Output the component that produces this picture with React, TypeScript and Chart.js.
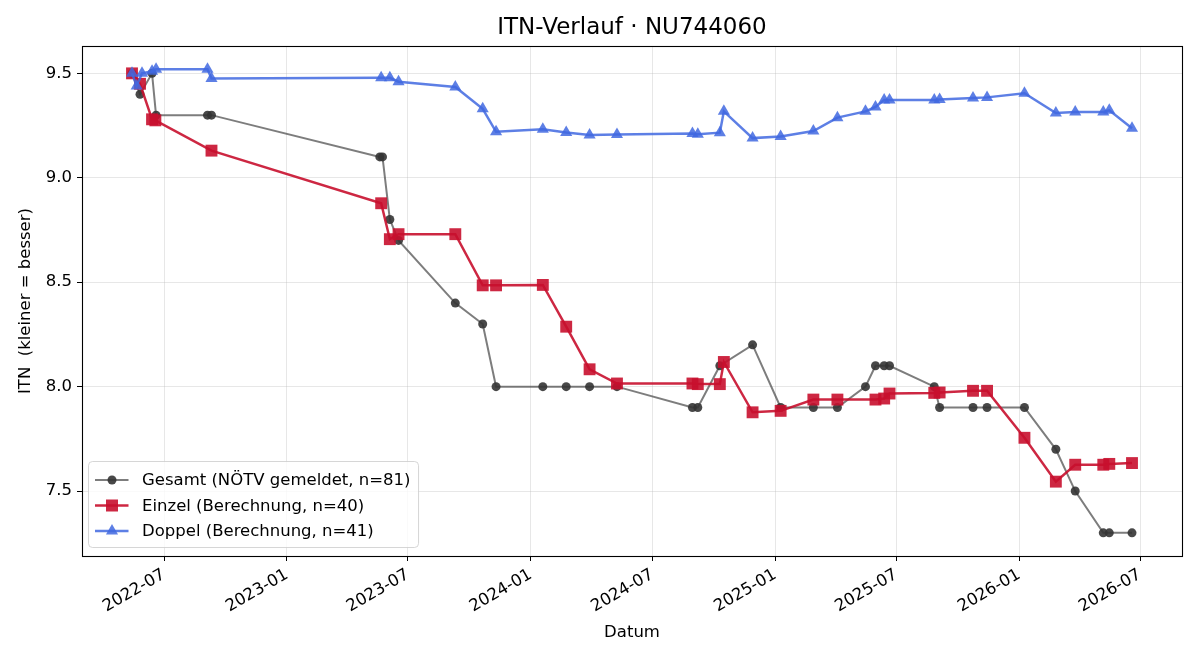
import React, { useEffect, useRef } from 'react';
import { Chart, registerables } from 'chart.js';

Chart.register(...registerables);

const TITLE = 'ITN-Verlauf · NU744060';
const X_LABEL = 'Datum';
const Y_LABEL = 'ITN  (kleiner = besser)';

const gesamtLabel = 'Gesamt (NÖTV gemeldet, n=81)';
const gesamtDates = [
  '2022-05-14', '2022-05-26', '2022-06-13', '2022-06-19', '2022-09-04', '2022-09-10',
  '2023-05-20', '2023-05-24', '2023-06-04', '2023-06-17', '2023-09-10', '2023-10-21',
  '2023-11-10', '2024-01-19', '2024-02-23', '2024-03-29', '2024-05-09', '2024-08-30',
  '2024-09-07', '2024-10-10', '2024-11-28', '2025-01-09', '2025-02-27', '2025-04-04',
  '2025-05-16', '2025-05-31', '2025-06-13', '2025-06-21', '2025-08-27', '2025-09-04',
  '2025-10-24', '2025-11-14', '2026-01-09', '2026-02-25', '2026-03-26', '2026-05-07',
  '2026-05-16', '2026-06-19',
];
const gesamtValues = [
  9.5, 9.4, 9.5, 9.3, 9.3, 9.3,
  9.1, 9.1, 8.8, 8.7, 8.4, 8.3,
  8.0, 8.0, 8.0, 8.0, 8.0, 7.9,
  7.9, 8.1, 8.2, 7.9, 7.9, 7.9,
  8.0, 8.1, 8.1, 8.1, 8.0, 7.9,
  7.9, 7.9, 7.9, 7.7, 7.5, 7.3,
  7.3, 7.3,
];

const einzelLabel = 'Einzel (Berechnung, n=40)';
const einzelDates = [
  '2022-05-14', '2022-05-26', '2022-06-13', '2022-06-18', '2022-09-10', '2023-05-22',
  '2023-06-04', '2023-06-17', '2023-09-10', '2023-10-21', '2023-11-10', '2024-01-19',
  '2024-02-23', '2024-03-29', '2024-05-09', '2024-08-30', '2024-09-07', '2024-10-10',
  '2024-10-16', '2024-11-28', '2025-01-09', '2025-02-27', '2025-04-04', '2025-05-31',
  '2025-06-13', '2025-06-21', '2025-08-27', '2025-09-04', '2025-10-24', '2025-11-14',
  '2026-01-09', '2026-02-25', '2026-03-26', '2026-05-07', '2026-05-16', '2026-06-19',
];
const einzelValues = [
  9.5, 9.45, 9.28, 9.275, 9.13, 8.878,
  8.706, 8.73, 8.73, 8.485, 8.485, 8.487,
  8.287, 8.083, 8.015, 8.015, 8.012, 8.012,
  8.118, 7.877, 7.884, 7.938, 7.938, 7.938,
  7.943, 7.967, 7.97, 7.972, 7.98, 7.98,
  7.755, 7.545, 7.626, 7.626, 7.63, 7.634,
];

const doppelLabel = 'Doppel (Berechnung, n=41)';
const doppelDates = [
  '2022-05-14', '2022-05-21', '2022-05-29', '2022-06-13', '2022-06-19', '2022-09-04',
  '2022-09-10', '2023-05-22', '2023-06-04', '2023-06-17', '2023-09-10', '2023-10-21',
  '2023-11-10', '2024-01-19', '2024-02-23', '2024-03-29', '2024-05-09', '2024-08-30',
  '2024-09-07', '2024-10-10', '2024-10-16', '2024-11-28', '2025-01-09', '2025-02-27',
  '2025-04-04', '2025-05-16', '2025-05-31', '2025-06-13', '2025-06-21', '2025-08-27',
  '2025-09-04', '2025-10-24', '2025-11-14', '2026-01-09', '2026-02-25', '2026-03-26',
  '2026-05-07', '2026-05-16', '2026-06-19',
];
const doppelValues = [
  9.5, 9.44, 9.5, 9.51, 9.52, 9.52,
  9.475, 9.479, 9.479, 9.46, 9.435, 9.33,
  9.22, 9.232, 9.217, 9.205, 9.207, 9.212,
  9.209, 9.216, 9.318, 9.19, 9.198, 9.224,
  9.288, 9.318, 9.339, 9.372, 9.372, 9.372,
  9.375, 9.382, 9.385, 9.405, 9.31, 9.315,
  9.315, 9.323, 9.237,
];

const xTickLabels = ['2022-07', '2023-01', '2023-07', '2024-01', '2024-07', '2025-01', '2025-07', '2026-01', '2026-07'];
const yTickValues = [7.5, 8.0, 8.5, 9.0, 9.5];

const FONT = '"DejaVu Sans", "Liberation Sans", sans-serif';

const GRAY_LINE = 'rgba(64,64,64,0.68)';
const GRAY_POINT = 'rgba(52,52,52,0.9)';
const RED = 'rgba(200,16,46,0.9)';
const BLUE = 'rgba(65,105,225,0.85)';

function toMs(s: string): number {
  const [y, m, d] = s.split('-').map(Number);
  return Date.UTC(y, m - 1, d || 1);
}

function fmtMonth(ms: number): string {
  const dt = new Date(ms);
  const m = dt.getUTCMonth() + 1;
  return dt.getUTCFullYear() + '-' + (m < 10 ? '0' + m : String(m));
}

const framePlugin = {
  id: 'frame',
  afterDatasetsDraw(chart: any) {
    const { ctx, chartArea } = chart;
    ctx.save();
    ctx.strokeStyle = '#000';
    ctx.lineWidth = 1.1;
    ctx.strokeRect(
      Math.round(chartArea.left) + 0.5,
      Math.round(chartArea.top) + 0.5,
      Math.round(chartArea.right - chartArea.left),
      Math.round(chartArea.bottom - chartArea.top)
    );
    ctx.restore();
  },
};

const titlePlugin = {
  id: 'axTitle',
  afterDraw(chart: any) {
    const { ctx, chartArea } = chart;
    ctx.save();
    ctx.font = '23px ' + FONT;
    ctx.fillStyle = '#000';
    ctx.textAlign = 'center';
    ctx.textBaseline = 'middle';
    ctx.fillText(TITLE, (chartArea.left + chartArea.right) / 2, 28);
    ctx.restore();
  },
};

function drawMarker(ctx: CanvasRenderingContext2D, kind: string, x: number, y: number) {
  ctx.beginPath();
  if (kind === 'circle') {
    ctx.arc(x, y, 4.5, 0, Math.PI * 2);
  } else if (kind === 'rect') {
    ctx.rect(x - 6, y - 6, 12, 12);
  } else {
    ctx.moveTo(x, y - 7);
    ctx.lineTo(x + 6.06, y + 3.5);
    ctx.lineTo(x - 6.06, y + 3.5);
    ctx.closePath();
  }
  ctx.fill();
}

const legendPlugin = {
  id: 'mplLegend',
  afterDraw(chart: any) {
    const { ctx, chartArea } = chart;
    const items = [
      { label: gesamtLabel, line: GRAY_LINE, point: GRAY_POINT, kind: 'circle', lw: 2 },
      { label: einzelLabel, line: RED, point: RED, kind: 'rect', lw: 2.5 },
      { label: doppelLabel, line: BLUE, point: BLUE, kind: 'triangle', lw: 2.5 },
    ];
    ctx.save();
    ctx.font = '16.5px ' + FONT;
    let maxW = 0;
    items.forEach((it) => { maxW = Math.max(maxW, ctx.measureText(it.label).width); });
    const left = chartArea.left + 6.5;
    const height = 86;
    const top = chartArea.bottom - 8.5 - height;
    const textX = left + 53.5;
    const width = textX - left + maxW + 8;
    const r = 4;
    ctx.beginPath();
    ctx.moveTo(left + r, top);
    ctx.lineTo(left + width - r, top);
    ctx.quadraticCurveTo(left + width, top, left + width, top + r);
    ctx.lineTo(left + width, top + height - r);
    ctx.quadraticCurveTo(left + width, top + height, left + width - r, top + height);
    ctx.lineTo(left + r, top + height);
    ctx.quadraticCurveTo(left, top + height, left, top + height - r);
    ctx.lineTo(left, top + r);
    ctx.quadraticCurveTo(left, top, left + r, top);
    ctx.closePath();
    ctx.fillStyle = 'rgba(255,255,255,0.8)';
    ctx.fill();
    ctx.strokeStyle = 'rgba(204,204,204,0.8)';
    ctx.lineWidth = 1;
    ctx.stroke();

    items.forEach((it, i) => {
      const cy = top + 18.5 + i * 25.5;
      ctx.strokeStyle = it.line;
      ctx.lineWidth = it.lw;
      ctx.beginPath();
      ctx.moveTo(left + 6.5, cy);
      ctx.lineTo(left + 40, cy);
      ctx.stroke();
      ctx.fillStyle = it.point;
      drawMarker(ctx, it.kind, left + 23.5, cy);
      ctx.fillStyle = '#000';
      ctx.textAlign = 'left';
      ctx.textBaseline = 'middle';
      ctx.fillText(it.label, textX, cy + 1);
    });
    ctx.restore();
  },
};

export default function App() {
  const canvasRef = useRef<HTMLCanvasElement | null>(null);

  useEffect(() => {
    const canvas = canvasRef.current;
    if (!canvas) return;

    const mk = (dates: string[], vals: number[]) => dates.map((d, i) => ({ x: toMs(d), y: vals[i] }));

    const allX = [...gesamtDates, ...einzelDates, ...doppelDates].map(toMs);
    const allY = [...gesamtValues, ...einzelValues, ...doppelValues];
    const xMin0 = Math.min(...allX);
    const xMax0 = Math.max(...allX);
    const yMin0 = Math.min(...allY);
    const yMax0 = Math.max(...allY);
    const xPad = (xMax0 - xMin0) * 0.05;
    const yPad = (yMax0 - yMin0) * 0.05;

    const xTickValues = xTickLabels.map(toMs);

    const chart = new Chart(canvas, {
      type: 'line',
      data: {
        datasets: [
          {
            label: gesamtLabel,
            data: mk(gesamtDates, gesamtValues),
            borderColor: GRAY_LINE,
            backgroundColor: GRAY_POINT,
            pointBackgroundColor: GRAY_POINT,
            pointBorderColor: GRAY_POINT,
            borderWidth: 2,
            pointRadius: 4.5,
            pointBorderWidth: 0,
            pointStyle: 'circle',
            tension: 0,
            order: 3,
          },
          {
            label: einzelLabel,
            data: mk(einzelDates, einzelValues),
            borderColor: RED,
            backgroundColor: RED,
            pointBackgroundColor: RED,
            pointBorderColor: RED,
            borderWidth: 2.5,
            pointRadius: 8.4,
            pointBorderWidth: 0,
            pointStyle: 'rect',
            tension: 0,
            order: 2,
          },
          {
            label: doppelLabel,
            data: mk(doppelDates, doppelValues),
            borderColor: BLUE,
            backgroundColor: BLUE,
            pointBackgroundColor: BLUE,
            pointBorderColor: BLUE,
            borderWidth: 2.5,
            pointRadius: 7,
            pointBorderWidth: 0,
            pointStyle: 'triangle',
            tension: 0,
            order: 1,
          },
        ],
      },
      options: {
        animation: false,
        responsive: true,
        maintainAspectRatio: false,
        parsing: false as any,
        layout: { padding: { left: 0, right: 18, top: 46, bottom: 0 } },
        plugins: {
          legend: { display: false },
          tooltip: { enabled: false },
          title: { display: false },
        },
        scales: {
          x: {
            type: 'linear',
            min: xMin0 - xPad,
            max: xMax0 + xPad,
            afterFit: (s: any) => { s.height = 104; },
            afterBuildTicks: (s: any) => { s.ticks = xTickValues.map((v) => ({ value: v })); },
            ticks: {
              autoSkip: false,
              minRotation: 30,
              maxRotation: 30,
              color: '#000',
              padding: 4,
              font: { family: FONT, size: 16.5 },
              callback: (v: any) => fmtMonth(Number(v)),
            },
            grid: {
              color: 'rgba(176,176,176,0.3)',
              lineWidth: 1,
              tickColor: '#000',
              tickLength: 5,
              drawTicks: true,
            },
            border: { display: false },
            title: {
              display: true,
              text: X_LABEL,
              color: '#000',
              font: { family: FONT, size: 16.5 },
              padding: { top: 4, bottom: 17 },
            },
          },
          y: {
            type: 'linear',
            min: yMin0 - yPad,
            max: yMax0 + yPad,
            afterFit: (s: any) => { s.width = 82; },
            afterBuildTicks: (s: any) => { s.ticks = yTickValues.map((v) => ({ value: v })); },
            ticks: {
              color: '#000',
              padding: 5,
              font: { family: FONT, size: 16.5 },
              callback: (v: any) => Number(v).toFixed(1),
            },
            grid: {
              color: 'rgba(176,176,176,0.3)',
              lineWidth: 1,
              tickColor: '#000',
              tickLength: 5,
              drawTicks: true,
            },
            border: { display: false },
            title: {
              display: true,
              text: Y_LABEL,
              color: '#000',
              font: { family: FONT, size: 16.5 },
              padding: { top: 16, bottom: 4 },
            },
          },
        },
      },
      plugins: [framePlugin, legendPlugin, titlePlugin],
    });

    return () => { chart.destroy(); };
  }, []);

  return (
    <div style={{ position: 'fixed', left: 0, top: 0, width: 1200, height: 660, background: '#fff' }}>
      <canvas ref={canvasRef} />
    </div>
  );
}
